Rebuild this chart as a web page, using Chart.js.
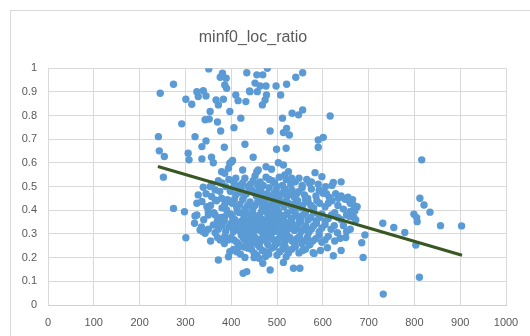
<!DOCTYPE html>
<html>
<head>
<meta charset="utf-8">
<script src="https://cdn.jsdelivr.net/npm/chart.js@4"></script>
<style>
html,body{margin:0;padding:0;background:#fff;}
#wrap{width:530px;height:336px;position:relative;}
</style>
</head>
<body>
<div id="wrap"><canvas id="c" width="530" height="336"></canvas></div>
<script>
const chartTitle = 'minf0_loc_ratio';
const xTickLabels = ['0','100','200','300','400','500','600','700','800','900','1000'];
const yTickLabels = ['0','0.1','0.2','0.3','0.4','0.5','0.6','0.7','0.8','0.9','1'];

const xValues = [
 351,381,389,376,434,456,479,469,541,556,386,390,274,245,325,339,328,345,301,314,
 367,372,383,410,415,432,440,452,463,476,441,457,498,521,477,474,468,508,354,397,
 343,352,370,292,421,377,406,512,533,547,556,616,241,321,345,336,385,430,485,514,
 521,527,590,601,590,499,520,243,254,306,308,336,357,361,448,401,252,397,403,394,
 386,379,425,456,459,476,488,503,514,525,532,517,583,598,571,623,816,
 405,418,430,442,452,463,470,483,495,505,512,540,555,565,590,606,640,358,372,388,
 398,410,422,433,445,455,465,478,488,498,508,518,528,538,548,560,575,585,600,614,628,655,345,375,
 402,413,425,436,447,458,468,476,486,496,505,515,525,535,545,556,568,580,593,605,620,633,645,660,675,355,380,392,
 398,408,418,428,438,448,458,466,474,482,490,498,507,515,523,532,542,552,562,574,586,598,612,626,640,652,668,340,362,378,385,
 395,405,415,424,434,443,452,461,470,478,486,494,502,511,520,529,538,548,558,569,580,592,605,618,632,645,660,320,350,365,380,
 400,412,422,432,442,452,462,471,480,490,500,509,518,528,538,549,560,572,585,598,612,626,650,355,385,
 405,420,437,450,462,475,488,500,512,525,540,556,570,581,610,623,640,394,397,412,416,430,
 372,426,434,461,469,485,514,520,536,550,579,688,685,692,638,
 274,298,301,332,343,338,361,372,376,386,328,325,336,347,350,321,325,339,354,365,357,365,379,390,390,412,386,365,
 601,616,634,648,670,659,672,
 812,821,834,799,805,806,731,755,779,857,903,803,811,732,
 410,425,437,448,458,476,490,500,520,530,548,575,620,395,380,
 404,416,428,439,450,460,471,483,493,503,513,523,533,543,555,567,592,608,640,665,
 407,419,430,441,452,463,472,481,491,500,510,520,530,540,550,562,574,587,612,652,668,368,386,
 403,413,423,433,443,453,462,470,478,486,494,503,511,519,528,537,547,557,568,580,592,605,619,633,660,350,370,
 400,410,420,429,438,448,457,466,474,482,490,498,506,515,524,533,543,553,563,575,586,598,625,652,335,372,388,
 406,417,427,437,447,457,466,476,485,495,504,514,523,533,543,554,566,578,592,605,370,393,
 412,428,444,456,468,482,494,506,518,532,548,562,595,450,475
];
const yValues = [
 0.997,0.979,0.958,0.962,0.981,0.972,1.0,0.972,0.962,0.981,0.929,0.915,0.932,0.894,0.901,0.905,0.88,0.883,0.869,0.848,
 0.866,0.845,0.869,0.887,0.863,0.859,0.904,0.937,0.925,0.925,0.901,0.901,0.925,0.932,0.887,0.866,0.845,0.887,0.817,0.817,
 0.782,0.785,0.773,0.765,0.789,0.735,0.749,0.789,0.81,0.803,0.824,0.798,0.711,0.711,0.693,0.669,0.666,0.679,0.735,0.728,
 0.746,0.718,0.697,0.708,0.666,0.658,0.662,0.651,0.627,0.641,0.613,0.617,0.624,0.601,0.624,0.605,0.54,0.599,0.61,0.578,
 0.556,0.563,0.57,0.563,0.57,0.584,0.573,0.601,0.591,0.563,0.535,0.549,0.559,0.542,0.514,0.517,0.613,
 0.52,0.505,0.535,0.51,0.545,0.52,0.505,0.53,0.515,0.54,0.505,0.52,0.505,0.53,0.51,0.5,0.52,0.51,0.525,0.5,
 0.48,0.465,0.49,0.47,0.485,0.46,0.49,0.47,0.455,0.485,0.465,0.49,0.47,0.455,0.48,0.465,0.49,0.46,0.475,0.455,0.47,0.455,0.47,0.48,
 0.43,0.41,0.445,0.42,0.405,0.435,0.415,0.445,0.42,0.405,0.44,0.415,0.43,0.405,0.44,0.42,0.435,0.41,0.43,0.415,0.44,0.42,0.405,0.43,0.415,0.42,0.41,0.445,
 0.385,0.36,0.39,0.37,0.355,0.385,0.365,0.395,0.35,0.375,0.395,0.36,0.38,0.355,0.39,0.365,0.38,0.355,0.39,0.37,0.355,0.385,0.365,0.39,0.36,0.38,0.37,0.36,0.39,0.37,0.355,
 0.33,0.31,0.345,0.32,0.305,0.335,0.315,0.345,0.32,0.305,0.335,0.31,0.345,0.32,0.305,0.335,0.315,0.345,0.32,0.305,0.335,0.31,0.34,0.32,0.305,0.335,0.32,0.345,0.32,0.305,0.335,
 0.285,0.265,0.295,0.27,0.255,0.285,0.265,0.29,0.255,0.28,0.26,0.295,0.27,0.285,0.26,0.29,0.27,0.255,0.28,0.265,0.29,0.27,0.285,0.27,0.26,
 0.235,0.215,0.24,0.22,0.245,0.225,0.24,0.21,0.235,0.22,0.245,0.23,0.253,0.218,0.242,0.208,0.23,0.204,0.225,0.232,0.246,0.201,
 0.19,0.134,0.141,0.197,0.176,0.148,0.18,0.204,0.155,0.155,0.221,0.201,0.263,0.296,0.282,
 0.408,0.394,0.284,0.317,0.303,0.31,0.338,0.331,0.275,0.289,0.465,0.43,0.437,0.415,0.394,0.376,0.38,0.497,0.5,0.486,0.458,0.444,0.451,0.437,0.401,0.415,0.373,0.38,
 0.472,0.444,0.451,0.448,0.397,0.373,0.359,
 0.451,0.422,0.392,0.383,0.369,0.352,0.345,0.327,0.306,0.335,0.334,0.253,0.117,0.046,
 0.535,0.515,0.5,0.525,0.505,0.54,0.525,0.5,0.53,0.51,0.535,0.52,0.505,0.53,0.515,
 0.495,0.475,0.46,0.495,0.475,0.48,0.465,0.495,0.47,0.45,0.475,0.46,0.485,0.47,0.495,0.45,0.485,0.47,0.46,0.445,
 0.445,0.425,0.405,0.435,0.42,0.445,0.43,0.405,0.44,0.42,0.43,0.44,0.42,0.43,0.41,0.445,0.42,0.44,0.43,0.445,0.42,0.44,0.425,
 0.37,0.395,0.355,0.39,0.37,0.35,0.38,0.36,0.39,0.36,0.38,0.395,0.37,0.38,0.35,0.395,0.37,0.38,0.36,0.39,0.37,0.355,0.38,0.37,0.395,0.38,0.355,
 0.345,0.325,0.31,0.34,0.32,0.3,0.33,0.31,0.335,0.32,0.345,0.325,0.305,0.335,0.32,0.345,0.325,0.31,0.335,0.32,0.345,0.325,0.335,0.31,0.33,0.32,0.31,
 0.275,0.255,0.28,0.29,0.27,0.255,0.28,0.27,0.295,0.27,0.28,0.255,0.29,0.27,0.28,0.26,0.285,0.27,0.295,0.275,0.285,0.275,
 0.225,0.245,0.235,0.21,0.23,0.215,0.245,0.225,0.245,0.235,0.22,0.235,0.23,0.2,0.205
];
const trendX = [240, 904];
const trendY = [0.585, 0.21];

const points = xValues.map((x, i) => ({x: x, y: yValues[i]}));
const trendPoints = trendX.map((x, i) => ({x: x, y: trendY[i]}));

const framePlugin = {
  id: 'frame',
  beforeDraw(chart) {
    const ctx = chart.ctx;
    ctx.save();
    ctx.fillStyle = '#ffffff';
    ctx.fillRect(0, 0, chart.width, chart.height);
    ctx.strokeStyle = '#d9d9d9';
    ctx.lineWidth = 1;
    ctx.strokeRect(10.5, 10.5, 700, 500);
    ctx.restore();
  }
};

new Chart(document.getElementById('c'), {
  type: 'scatter',
  data: {
    datasets: [
      {
        type: 'line',
        label: 'trend',
        data: trendPoints,
        borderColor: '#385723',
        borderWidth: 3,
        pointRadius: 0,
        fill: false,
        order: 0
      },
      {
        label: chartTitle,
        data: points,
        backgroundColor: '#5b9bd5',
        borderColor: '#5b9bd5',
        borderWidth: 0,
        pointRadius: 3.7,
        pointHoverRadius: 3.7,
        order: 1
      }
    ]
  },
  options: {
    responsive: false,
    animation: false,
    events: [],
    layout: { padding: { left: 0, right: 24, top: 0, bottom: 0 } },
    plugins: {
      legend: { display: false },
      tooltip: { enabled: false },
      title: {
        display: true,
        text: chartTitle,
        color: '#595959',
        font: { family: 'Liberation Sans', size: 16, weight: 'normal', lineHeight: 1.2 },
        padding: { top: 28, bottom: 21 }
      }
    },
    scales: {
      x: {
        type: 'linear',
        min: 0, max: 1000,
        afterFit(scale) { scale.height = 31; },
        grid: { color: '#d9d9d9', lineWidth: 1, drawTicks: false },
        border: { color: '#d0d0d0' },
        ticks: {
          stepSize: 100, autoSkip: false, maxRotation: 0, padding: 11,
          color: '#595959',
          font: { family: 'Liberation Sans', size: 11 },
          callback: (v, i) => xTickLabels[i]
        }
      },
      y: {
        type: 'linear',
        min: 0, max: 1,
        afterFit(scale) { scale.width = 48; },
        grid: { color: '#d9d9d9', lineWidth: 1, drawTicks: false },
        border: { color: '#d9d9d9' },
        ticks: {
          stepSize: 0.1, autoSkip: false, padding: 11,
          color: '#595959',
          font: { family: 'Liberation Sans', size: 11 },
          callback: (v, i) => yTickLabels[i]
        }
      }
    }
  },
  plugins: [framePlugin]
});
</script>
</body>
</html>
